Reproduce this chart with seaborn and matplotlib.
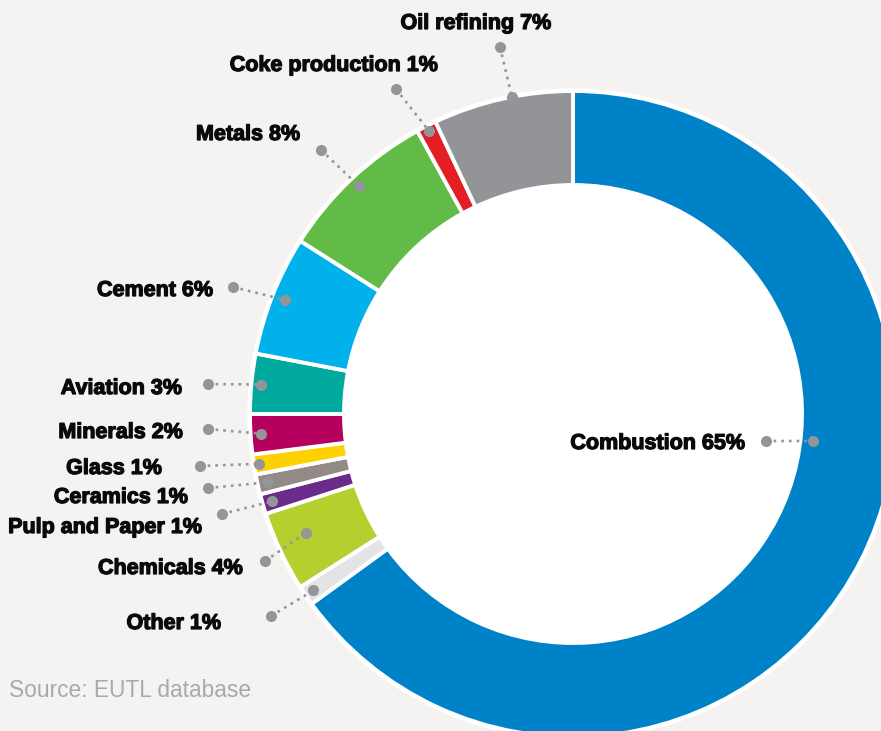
import matplotlib
matplotlib.use("Agg")
import matplotlib.pyplot as plt
from matplotlib.patches import Circle
import matplotlib.patheffects as pe
import numpy as np
import seaborn as sns

# Share of verified emissions by activity, clockwise from 12 o'clock
sectors = ["Combustion", "Other", "Chemicals", "Pulp and Paper", "Ceramics", "Glass",
           "Minerals", "Aviation", "Cement", "Metals", "Coke production", "Oil refining"]
shares = [65, 1, 4, 1, 1, 1, 2, 3, 6, 8, 1, 7]
sector_colors = ["#0082c8", "#e3e4e6", "#b6cf2e", "#6a2b8b", "#938a85", "#ffd100",
                 "#b5005e", "#00a99e", "#00b1ec", "#62bb47", "#e31e25", "#929497"]
source_note = "Source: EUTL database"

# Canvas geometry (pixels, measured from the top-left corner)
W, H = 881, 731
CX, CY = 573, 414
R_OUT, R_IN = 323, 229
BG = "#f4f3f1"
LEADER = "#939598"

# Where each label sits, where its leader starts, and how far out on the
# wedge the leader ends (optional fixed angle in degrees, matplotlib convention)
label_layout = {
    "Combustion":      dict(text=(745, 441), ha="right",  dot=(766, 441), r=242, ang=-6.4),
    "Other":           dict(text=(221, 621), ha="right",  dot=(271, 616), r=314),
    "Chemicals":       dict(text=(243, 566), ha="right",  dot=(265, 561), r=292, ang=204.0),
    "Pulp and Paper":  dict(text=(202, 525), ha="right",  dot=(222, 514), r=313),
    "Ceramics":        dict(text=(188, 495), ha="right",  dot=(208, 488), r=313),
    "Glass":           dict(text=(162, 466), ha="right",  dot=(200, 466), r=318),
    "Minerals":        dict(text=(183, 430), ha="right",  dot=(208, 429), r=313),
    "Aviation":        dict(text=(182, 386), ha="right",  dot=(208, 384), r=313),
    "Cement":          dict(text=(213, 288), ha="right",  dot=(233, 287), r=310),
    "Metals":          dict(text=(300, 132), ha="right",  dot=(321, 150), r=313),
    "Coke production": dict(text=(438, 63),  ha="right",  dot=(396, 89),  r=318),
    "Oil refining":    dict(text=(476, 21),  ha="center", dot=(500, 47),  r=323, ang=100.9),
}

sns.set_style("white")
plt.rcParams["font.family"] = ["Liberation Sans", "DejaVu Sans"]


def up(y):
    """Convert a pixel row (top origin) into a data y (bottom origin)."""
    return H - y


fig = plt.figure(figsize=(W / 100, H / 100), dpi=100, facecolor=BG)
ax = fig.add_axes([0, 0, 1, 1])
ax.set_facecolor(BG)

palette = sns.color_palette(sector_colors)

# White hole behind the ring
ax.add_patch(Circle((CX, up(CY)), R_IN + 2, facecolor="white", edgecolor="none", zorder=0))

wedges, _ = ax.pie(
    shares,
    colors=palette,
    startangle=90,
    counterclock=False,
    radius=R_OUT,
    center=(CX, up(CY)),
    wedgeprops=dict(width=R_OUT - R_IN, edgecolor="white", linewidth=2.8),
    frame=False,
)
for w in wedges:
    w.set_zorder(2)

# Thin white rim round the outside of the ring
ax.add_patch(Circle((CX, up(CY)), R_OUT + 1, facecolor="none", edgecolor="white",
                    linewidth=2.4, zorder=3))

heavy = [pe.withStroke(linewidth=0.9, foreground="#0a0a0a")]

for name, share, w in zip(sectors, shares, wedges):
    lay = label_layout[name]
    ang = lay.get("ang", 0.5 * (w.theta1 + w.theta2))
    ex = CX + lay["r"] * np.cos(np.radians(ang))
    ey = up(CY) + lay["r"] * np.sin(np.radians(ang))
    sx, sy = lay["dot"][0], up(lay["dot"][1])
    ax.plot([sx, ex], [sy, ey], color=LEADER, linewidth=1.9,
            linestyle=(0, (1, 1.9)), zorder=4, solid_capstyle="butt")
    ax.plot([sx, ex], [sy, ey], linestyle="none", marker="o", markersize=8.0,
            color=LEADER, markeredgewidth=0, zorder=5)
    tx, ty = lay["text"]
    ax.text(tx, up(ty + 8), f"{name} {share}%", ha=lay["ha"], va="baseline",
            fontsize=15.5, fontweight="bold", color="#0a0a0a", zorder=6,
            path_effects=heavy)

ax.text(9, up(697), source_note, ha="left", va="baseline", fontsize=16.4,
        color="#a7a9ac")

ax.set_xlim(0, W)
ax.set_ylim(0, H)
ax.set_aspect("equal")
ax.axis("off")

fig.savefig("out.png", dpi=100, facecolor=BG)
